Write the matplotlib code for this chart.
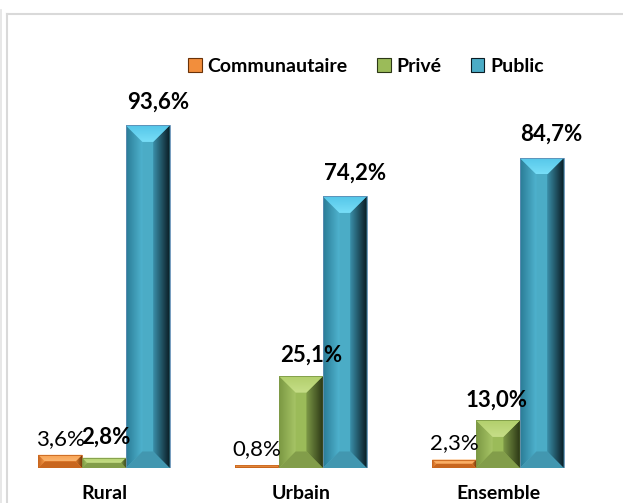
import matplotlib
matplotlib.use('Agg')
import matplotlib.pyplot as plt
import numpy as np
from matplotlib.patches import Polygon, Patch
from matplotlib.lines import Line2D
from matplotlib.colors import LinearSegmentedColormap

# ---------------- data ----------------
categories = ['Rural', 'Urbain', 'Ensemble']
series_names = ['Communautaire', 'Privé', 'Public']
communautaire = [3.6, 0.8, 2.3]
prive = [2.8, 25.1, 13.0]
public = [93.6, 74.2, 84.7]

# ---------------- style ----------------
FONT = 'Lato'
W_PX, H_PX = 623, 503
styles = {
    'Communautaire': dict(face='#F28E3C', lo='#C4621C', li='#F79A48', ri='#D5772A', ro='#6A3208',
                          top1='#F8A050', top2='#FAB46E', bot='#C8661E', edge='#C8651E',
                          weight='normal', dy=10, dx=[0, 0, 0]),
    'Privé': dict(face='#9BBB59', lo='#7B9843', li='#A7C566', ri='#7E9A47', ro='#2C3816',
                  top1='#B2CF6C', top2='#C6DE88', bot='#829D4A', edge='#7E9A47',
                  weight='bold', dy=14, dx=[2, 10, -1]),
    'Public': dict(face='#4BACC6', lo='#2A7C96', li='#50B4D0', ri='#3A8FA9', ro='#0A1C24',
                   top1='#54C6E8', top2='#78DEF8', bot='#4297B0', edge='#5F8DB4',
                   weight='bold', dy=17, dx=[10, 10, 9]),
}

fig = plt.figure(figsize=(W_PX / 100, H_PX / 100), dpi=100)
ax_left, ax_w = 5.5, 591.0
ax_bottom, ax_h = 35.0, 366.0
ax = fig.add_axes([ax_left / W_PX, ax_bottom / H_PX, ax_w / W_PX, ax_h / H_PX])
ax.set_xlim(-0.5, 2.5)
ax.set_ylim(0, 100)
ax.axis('off')

px_x = ax_w / 3.0     # pixels per data unit (x)
px_y = ax_h / 100.0   # pixels per data unit (y)

n = len(series_names)
w = 1.0 / (n + 1.5)
xs = np.arange(len(categories))


def grad(poly_xy, c1, c2, extent, horizontal, z):
    cmap = LinearSegmentedColormap.from_list('g', [c1, c2])
    g = np.linspace(0, 1, 64)
    arr = g[np.newaxis, :] if horizontal else g[:, np.newaxis]
    im = ax.imshow(arr, extent=extent, cmap=cmap, aspect='auto', origin='lower',
                   interpolation='bilinear', zorder=z)
    poly = Polygon(poly_xy, closed=True, facecolor='none', edgecolor='none',
                   transform=ax.transData)
    ax.add_patch(poly)
    im.set_clip_path(poly)


def bevel(rect, st):
    x0, y0 = rect.get_x(), rect.get_y()
    x1, y1 = x0 + rect.get_width(), y0 + rect.get_height()
    wpx = rect.get_width() * px_x
    hpx = rect.get_height() * px_y
    b = min(16.5, wpx / 2.0, hpx / 2.0)
    bx, by = b / px_x, b / px_y
    z = 3
    # left
    grad([(x0, y0), (x0 + bx, y0 + by), (x0 + bx, y1 - by), (x0, y1)],
         st['lo'], st['li'], (x0, x0 + bx, y0, y1), True, z)
    # right
    grad([(x1, y0), (x1 - bx, y0 + by), (x1 - bx, y1 - by), (x1, y1)],
         st['ri'], st['ro'], (x1 - bx, x1, y0, y1), True, z)
    # top
    grad([(x0, y1), (x1, y1), (x1 - bx, y1 - by), (x0 + bx, y1 - by)],
         st['top2'], st['top1'], (x0, x1, y1 - by, y1), False, z)
    # bottom
    ax.add_patch(Polygon([(x0, y0), (x1, y0), (x1 - bx, y0 + by), (x0 + bx, y0 + by)],
                         closed=True, facecolor=st['bot'], edgecolor='none', zorder=z))
    # thin outline
    ax.add_patch(Polygon([(x0, y0), (x1, y0), (x1, y1), (x0, y1)], closed=True,
                         facecolor='none', edgecolor=st['edge'], lw=0.6, zorder=z + 1))


all_vals = [communautaire, prive, public]
for j, (name, vals) in enumerate(zip(series_names, all_vals)):
    st = styles[name]
    pos = xs + (j - 1) * w
    bars = ax.bar(pos, vals, width=w, color=st['face'], edgecolor='none', zorder=2)
    for k, (rect, v) in enumerate(zip(bars.patches, vals)):
        bevel(rect, st)
        lab = f"{v:.1f}%".replace('.', ',')
        ax.annotate(lab, xy=(rect.get_x() + rect.get_width() / 2, v),
                    xytext=(st['dx'][k] * 0.72, st['dy'] * 0.72), textcoords='offset points',
                    ha='center', va='baseline', fontsize=16, fontweight=st['weight'],
                    family=FONT, color='black', zorder=6, annotation_clip=False)

ax.set_xlim(-0.5, 2.5)
ax.set_ylim(0, 100)

# category labels
for i, cat in enumerate(categories):
    ax.text(xs[i], -31.0 / ax_h, cat, transform=ax.get_xaxis_transform(),
            ha='center', va='baseline', fontsize=14, fontweight='bold', family=FONT,
            clip_on=False)

# legend
handles = [Patch(facecolor=styles[s]['face'], edgecolor=styles[s]['ro'], lw=0.8)
           for s in series_names]
fig.legend(handles, series_names, loc='center', bbox_to_anchor=(366 / W_PX, 1 - 66 / H_PX),
           ncol=3, frameon=False, handlelength=0.7, handleheight=0.7,
           handletextpad=0.3, columnspacing=1.5, borderaxespad=0,
           prop=dict(family=FONT, weight='bold', size=14))

# chart frame lines
fig.add_artist(Line2D([7 / W_PX, 1.0], [1 - 14 / H_PX] * 2, color='#D9D9D9', lw=1.5))
fig.add_artist(Line2D([7 / W_PX] * 2, [0, 1 - 14 / H_PX], color='#D9D9D9', lw=1.5))
fig.add_artist(Line2D([0.8 / W_PX] * 2, [0, 1 - 10 / H_PX], color='#E3E3E3', lw=1.2))

fig.savefig('out.png', dpi=100)
